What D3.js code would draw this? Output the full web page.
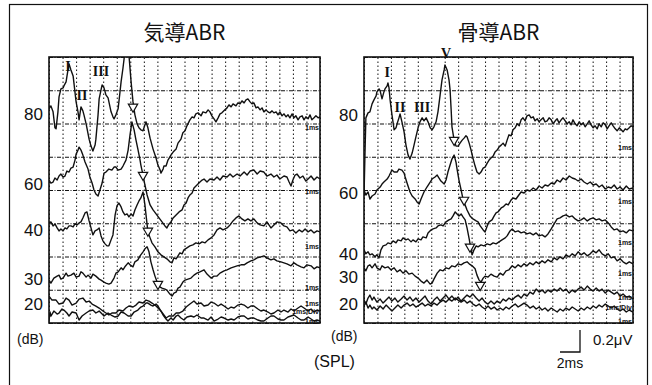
<!DOCTYPE html>
<html>
<head>
<meta charset="utf-8">
<script src="https://cdn.jsdelivr.net/npm/d3@7"></script>
<style>
body { margin: 0; background: #fff; }
svg { display: block; }
text { fill: #111; font-family: "Liberation Sans", Arial, sans-serif; }
</style>
</head>
<body>
<svg width="652" height="385"></svg>
<script>
// stimulus levels (dB SPL) and the height where each trace starts, in grid divisions from the bottom
var levels = ["80", "60", "40", "30", "20"];
var airLevelPos = [6.29, 4.18, 2.80, 1.32, 0.57];
var boneLevelPos = [6.26, 3.91, 2.08, 1.38, 0.57];

// traces: [time (ms), position (grid divisions)]
var air80 = [[0,6.44],[0.07,6.53],[0.15,6.35],[0.22,5.87],[0.26,5.84],[0.33,6.35],[0.37,6.80],[0.44,7.04],[0.52,7.07],[0.55,7.13],[0.63,7.25],[0.70,7.61],[0.74,7.79],[0.81,7.61],[0.89,7.43],[1.00,6.65],[1.07,6.35],[1.11,6.11],[1.18,6.50],[1.25,6.38],[1.29,6.26],[1.37,5.99],[1.48,5.53],[1.55,5.32],[1.62,5.17],[1.70,5.35],[1.73,5.53],[1.81,6.26],[1.85,6.74],[1.92,7.01],[1.96,7.16],[2.03,7.07],[2.10,6.86],[2.18,6.77],[2.29,6.35],[2.36,6.20],[2.40,6.14],[2.47,6.26],[2.55,6.44],[2.62,6.95],[2.66,7.25],[2.73,7.67],[2.77,7.94],[2.84,8.51],[2.92,8.51],[2.95,8.06],[3.03,7.25],[3.10,6.65],[3.17,6.26],[3.25,5.99],[3.32,5.87],[3.39,5.81],[3.47,5.78],[3.54,5.96],[3.58,6.05],[3.65,5.87],[3.73,5.56],[3.84,5.23],[3.95,4.96],[4.02,4.75],[4.10,4.60],[4.13,4.51],[4.21,4.63],[4.24,4.72],[4.32,4.72],[4.39,4.90],[4.50,5.05],[4.58,5.14],[4.69,5.23],[4.76,5.41],[4.87,5.53],[4.94,5.72],[5.02,5.78],[5.09,5.93],[5.20,6.11],[5.28,6.20],[5.35,6.17],[5.42,6.29],[5.50,6.32],[5.61,6.23],[5.68,6.35],[5.79,6.32],[5.87,6.41],[5.94,6.35],[6.01,6.23],[6.09,6.14],[6.16,6.05],[6.24,6.17],[6.31,6.29],[6.38,6.32],[6.49,6.41],[6.57,6.47],[6.64,6.56],[6.72,6.50],[6.79,6.59],[6.90,6.53],[6.97,6.62],[7.05,6.59],[7.12,6.68],[7.20,6.62],[7.27,6.71],[7.34,6.74],[7.42,6.65],[7.49,6.59],[7.56,6.62],[7.64,6.47],[7.71,6.50],[7.79,6.41],[7.86,6.47],[7.93,6.35],[8.01,6.41],[8.08,6.35],[8.15,6.32],[8.23,6.38],[8.30,6.32],[8.38,6.35],[8.45,6.26],[8.52,6.35],[8.60,6.23],[8.67,6.29],[8.75,6.20],[8.82,6.26],[8.89,6.17],[8.97,6.29],[9.04,6.17],[9.11,6.23],[9.19,6.11],[9.26,6.20],[9.34,6.23],[9.41,6.11],[9.48,6.20],[9.56,6.14],[9.63,6.26],[9.70,6.11],[9.78,6.17],[9.85,6.23],[9.93,6.17],[10,6.20]];
var air60 = [[0,4.30],[0.07,4.21],[0.15,4.24],[0.22,4.36],[0.30,4.30],[0.37,4.42],[0.44,4.48],[0.52,4.39],[0.59,4.42],[0.66,4.57],[0.74,4.54],[0.81,4.66],[0.89,4.69],[0.96,4.90],[1.00,5.08],[1.07,5.20],[1.11,5.29],[1.18,5.20],[1.25,5.05],[1.33,4.84],[1.44,4.63],[1.51,4.39],[1.59,4.21],[1.66,4.00],[1.73,3.88],[1.81,3.82],[1.88,4.00],[1.96,4.21],[2.03,4.51],[2.10,4.54],[2.21,4.63],[2.32,4.60],[2.40,4.69],[2.47,4.69],[2.55,4.60],[2.66,4.63],[2.73,4.72],[2.84,4.90],[2.92,5.20],[2.99,5.66],[3.06,6.05],[3.14,5.81],[3.21,5.50],[3.28,5.23],[3.36,4.90],[3.39,4.75],[3.47,4.45],[3.54,4.15],[3.62,3.85],[3.73,3.55],[3.84,3.40],[3.95,3.28],[4.06,3.16],[4.17,3.04],[4.28,2.92],[4.35,2.86],[4.43,2.98],[4.50,3.04],[4.58,3.16],[4.69,3.25],[4.80,3.34],[4.91,3.40],[4.98,3.55],[5.06,3.61],[5.13,3.76],[5.20,3.85],[5.28,3.91],[5.35,4.06],[5.46,4.15],[5.57,4.24],[5.65,4.30],[5.72,4.33],[5.83,4.24],[5.94,4.33],[6.09,4.30],[6.20,4.39],[6.31,4.30],[6.42,4.42],[6.57,4.39],[6.68,4.48],[6.79,4.39],[6.94,4.48],[7.05,4.42],[7.20,4.54],[7.31,4.45],[7.42,4.57],[7.56,4.60],[7.68,4.48],[7.79,4.57],[7.93,4.54],[8.04,4.42],[8.19,4.48],[8.30,4.39],[8.41,4.45],[8.52,4.33],[8.67,4.42],[8.78,4.39],[8.86,4.24],[8.93,4.12],[9.00,4.30],[9.08,4.45],[9.15,4.48],[9.26,4.36],[9.37,4.42],[9.48,4.27],[9.56,4.33],[9.67,4.42],[9.78,4.30],[9.89,4.39],[10,4.33]];
var air40 = [[0,3.01],[0.07,3.04],[0.15,2.92],[0.22,2.98],[0.30,2.86],[0.37,2.77],[0.44,2.83],[0.52,2.77],[0.59,2.86],[0.66,2.83],[0.74,2.92],[0.81,2.92],[0.89,2.89],[0.96,2.98],[1.03,2.95],[1.11,3.01],[1.18,3.04],[1.25,3.16],[1.33,3.31],[1.40,3.34],[1.48,3.07],[1.55,2.86],[1.62,2.65],[1.70,2.77],[1.77,2.80],[1.85,2.86],[1.92,2.62],[1.99,2.47],[2.07,2.38],[2.14,2.32],[2.21,2.32],[2.29,2.50],[2.36,2.65],[2.44,3.25],[2.51,3.52],[2.58,3.61],[2.66,3.49],[2.73,3.34],[2.80,3.25],[2.88,3.28],[2.95,3.19],[3.03,3.28],[3.10,3.22],[3.17,3.40],[3.25,3.55],[3.32,3.67],[3.39,3.76],[3.47,3.94],[3.54,3.55],[3.58,3.25],[3.65,2.74],[3.73,2.56],[3.80,2.41],[3.91,2.29],[4.02,2.14],[4.13,2.05],[4.24,1.99],[4.35,1.93],[4.46,1.84],[4.54,1.81],[4.61,1.96],[4.69,1.93],[4.76,2.02],[4.83,2.11],[4.91,2.08],[4.98,2.20],[5.09,2.26],[5.20,2.32],[5.31,2.35],[5.42,2.41],[5.54,2.38],[5.65,2.44],[5.76,2.41],[5.87,2.50],[5.98,2.56],[6.09,2.65],[6.20,2.80],[6.31,2.86],[6.42,2.80],[6.57,2.86],[6.68,2.95],[6.79,3.07],[6.90,3.16],[7.01,3.22],[7.12,3.13],[7.23,3.07],[7.34,3.13],[7.45,3.07],[7.56,3.13],[7.68,3.01],[7.79,2.95],[7.93,2.92],[8.04,3.04],[8.19,2.86],[8.30,2.95],[8.41,3.04],[8.56,3.01],[8.67,2.92],[8.78,2.89],[8.89,2.77],[9.00,2.80],[9.11,2.71],[9.23,2.80],[9.34,2.74],[9.45,2.83],[9.56,2.74],[9.67,2.80],[9.78,2.71],[9.89,2.77],[10,2.74]];
var air30 = [[0,1.29],[0.07,1.20],[0.18,1.35],[0.30,1.41],[0.37,1.44],[0.44,1.32],[0.52,1.35],[0.63,1.50],[0.70,1.41],[0.81,1.44],[0.92,1.50],[1.00,1.38],[1.11,1.41],[1.18,1.54],[1.25,1.50],[1.37,1.38],[1.44,1.44],[1.55,1.35],[1.62,1.47],[1.73,1.41],[1.85,1.32],[1.92,1.29],[2.03,1.23],[2.10,1.20],[2.21,1.17],[2.29,1.20],[2.40,1.35],[2.47,1.50],[2.55,1.54],[2.66,1.66],[2.73,1.60],[2.80,1.69],[2.92,1.81],[2.99,1.75],[3.10,1.69],[3.17,1.84],[3.28,1.90],[3.36,2.02],[3.47,2.14],[3.54,2.23],[3.62,2.29],[3.69,2.14],[3.76,1.84],[3.84,1.60],[3.91,1.41],[3.99,1.23],[4.10,1.08],[4.17,1.05],[4.28,1.02],[4.35,0.99],[4.46,0.87],[4.54,0.81],[4.61,0.90],[4.69,0.93],[4.76,1.05],[4.83,1.08],[4.94,1.23],[5.02,1.29],[5.13,1.32],[5.24,1.35],[5.35,1.44],[5.46,1.50],[5.57,1.54],[5.72,1.60],[5.83,1.47],[5.98,1.35],[6.09,1.41],[6.20,1.41],[6.31,1.50],[6.46,1.57],[6.57,1.60],[6.72,1.66],[6.83,1.69],[6.94,1.72],[7.09,1.75],[7.20,1.75],[7.31,1.81],[7.45,1.87],[7.56,1.90],[7.68,1.96],[7.82,1.99],[7.93,2.02],[8.04,1.96],[8.19,1.90],[8.30,1.93],[8.41,1.87],[8.56,1.84],[8.67,1.81],[8.78,1.78],[8.93,1.72],[9.04,1.81],[9.15,1.75],[9.30,1.69],[9.41,1.66],[9.52,1.75],[9.67,1.72],[9.78,1.63],[9.89,1.69],[10,1.66]];
var air20a = [[0,0.81],[0.11,0.69],[0.26,0.69],[0.37,0.57],[0.52,0.60],[0.63,0.75],[0.74,0.69],[0.85,0.54],[1.00,0.60],[1.11,0.72],[1.25,0.75],[1.37,0.63],[1.48,0.66],[1.59,0.57],[1.73,0.51],[1.85,0.45],[1.99,0.36],[2.10,0.30],[2.21,0.24],[2.32,0.30],[2.47,0.30],[2.58,0.39],[2.73,0.36],[2.84,0.45],[2.95,0.51],[3.10,0.48],[3.21,0.54],[3.32,0.63],[3.47,0.60],[3.58,0.69],[3.69,0.66],[3.80,0.60],[3.95,0.51],[4.06,0.42],[4.13,0.36],[4.24,0.24],[4.32,0.15],[4.43,0.21],[4.58,0.21],[4.69,0.30],[4.80,0.30],[4.94,0.36],[5.06,0.48],[5.20,0.57],[5.35,0.66],[5.46,0.57],[5.61,0.60],[5.72,0.51],[5.87,0.54],[5.98,0.63],[6.09,0.60],[6.24,0.51],[6.35,0.57],[6.46,0.51],[6.61,0.42],[6.72,0.48],[6.83,0.45],[6.97,0.54],[7.09,0.57],[7.20,0.54],[7.34,0.45],[7.45,0.51],[7.56,0.51],[7.71,0.42],[7.82,0.36],[7.93,0.39],[8.08,0.33],[8.19,0.27],[8.30,0.30],[8.45,0.39],[8.56,0.33],[8.67,0.39],[8.82,0.33],[8.93,0.42],[9.04,0.36],[9.19,0.45],[9.30,0.51],[9.41,0.45],[9.56,0.36],[9.67,0.42],[9.78,0.33],[9.89,0.39],[10,0.36]];
var air20b = [[0,0.06],[0.04,0.33],[0.07,0.21],[0.18,0.36],[0.30,0.27],[0.37,0.30],[0.48,0.42],[0.55,0.39],[0.66,0.30],[0.74,0.21],[0.85,0.33],[1.00,0.30],[1.11,0.09],[1.22,0.21],[1.37,0.30],[1.48,0.36],[1.62,0.39],[1.73,0.30],[1.85,0.36],[1.96,0.27],[2.03,0.21],[2.18,0.30],[2.29,0.24],[2.44,0.18],[2.55,0.21],[2.66,0.33],[2.77,0.30],[2.92,0.21],[3.03,0.21],[3.14,0.33],[3.28,0.39],[3.39,0.48],[3.47,0.51],[3.58,0.60],[3.65,0.60],[3.76,0.54],[3.84,0.51],[3.95,0.57],[4.02,0.51],[4.13,0.36],[4.21,0.24],[4.32,0.12],[4.39,0.06],[4.50,0.15],[4.58,0.09],[4.69,0.21],[4.76,0.24],[4.87,0.15],[4.98,0.09],[5.09,0.18],[5.24,0.21],[5.35,0.18],[5.46,0.24],[5.61,0.15],[5.72,0.15],[5.87,0.09],[5.98,0.18],[6.09,0.06],[6.24,0.12],[6.35,0.18],[6.46,0.15],[6.61,0.09],[6.72,0.12],[6.83,0.09],[6.97,0.18],[7.09,0.21],[7.20,0.21],[7.34,0.12],[7.45,0.15],[7.56,0.15],[7.71,0.09],[7.82,0.06],[7.93,0.06],[8.08,0.15],[8.19,0.21],[8.30,0.21],[8.45,0.12],[8.56,0.09],[8.67,0.09],[8.82,0.18],[8.93,0.21],[9.04,0.24],[9.19,0.15],[9.30,0.09],[9.41,0.09],[9.56,0.18],[9.67,0.12],[9.78,0.06],[9.89,0.09],[10,0.06]];

var bone80 = [[0,3.82],[0.04,5.20],[0.07,6.17],[0.15,6.32],[0.22,6.35],[0.30,6.59],[0.37,6.71],[0.45,6.83],[0.48,6.95],[0.56,7.04],[0.60,6.98],[0.67,6.74],[0.74,6.95],[0.78,7.04],[0.86,7.13],[0.89,7.22],[0.93,7.07],[0.97,6.71],[1.04,6.26],[1.12,5.81],[1.19,5.87],[1.23,5.99],[1.30,6.17],[1.34,6.29],[1.41,6.05],[1.49,5.75],[1.56,5.35],[1.64,5.05],[1.71,4.93],[1.79,5.11],[1.86,5.35],[1.93,5.60],[2.01,5.87],[2.08,6.05],[2.16,6.17],[2.23,6.08],[2.31,6.17],[2.38,6.05],[2.46,5.87],[2.53,5.81],[2.60,5.90],[2.68,6.05],[2.75,6.35],[2.83,6.86],[2.90,7.31],[2.98,7.61],[3.01,7.76],[3.09,7.61],[3.16,7.31],[3.20,7.01],[3.24,6.41],[3.27,5.90],[3.35,5.50],[3.42,5.32],[3.50,5.32],[3.57,5.41],[3.65,5.50],[3.72,5.56],[3.79,5.63],[3.83,5.60],[3.91,5.41],[3.98,5.20],[4.05,4.96],[4.13,4.72],[4.20,4.54],[4.28,4.48],[4.35,4.54],[4.43,4.66],[4.50,4.69],[4.58,4.81],[4.65,4.90],[4.72,4.96],[4.80,5.02],[4.87,5.14],[4.95,5.20],[5.02,5.29],[5.10,5.35],[5.17,5.41],[5.25,5.32],[5.32,5.50],[5.39,5.66],[5.47,5.63],[5.54,5.81],[5.62,5.87],[5.69,5.99],[5.77,5.93],[5.84,6.11],[5.91,6.17],[5.99,6.08],[6.06,6.23],[6.14,6.26],[6.21,6.17],[6.29,6.20],[6.36,6.08],[6.44,6.14],[6.51,6.05],[6.58,6.11],[6.66,6.17],[6.73,6.05],[6.81,6.08],[6.88,6.17],[6.96,6.11],[7.03,5.99],[7.11,6.08],[7.18,6.14],[7.25,6.02],[7.33,6.11],[7.40,6.17],[7.48,6.08],[7.55,5.99],[7.63,6.05],[7.70,5.96],[7.77,6.11],[7.85,5.99],[7.92,5.93],[8.00,6.05],[8.07,5.96],[8.15,6.02],[8.22,5.90],[8.30,5.99],[8.37,6.08],[8.44,5.96],[8.52,5.87],[8.59,5.93],[8.67,5.84],[8.74,5.99],[8.82,5.90],[8.89,6.02],[8.97,5.96],[9.04,5.84],[9.11,5.93],[9.19,6.02],[9.26,5.93],[9.34,5.84],[9.41,5.78],[9.49,5.87],[9.56,5.81],[9.63,5.75],[9.71,5.84],[9.78,5.81],[9.86,5.87],[9.93,5.93],[10,5.90]];
var bone60 = [[0,4.00],[0.07,3.85],[0.15,3.94],[0.22,3.73],[0.30,3.82],[0.41,3.88],[0.48,4.00],[0.60,4.09],[0.67,4.18],[0.74,4.24],[0.86,4.33],[0.93,4.42],[1.04,4.60],[1.12,4.54],[1.23,4.54],[1.30,4.63],[1.41,4.60],[1.49,4.51],[1.53,4.39],[1.60,4.21],[1.71,3.94],[1.79,3.82],[1.90,3.73],[1.97,3.64],[2.05,3.58],[2.12,3.73],[2.23,3.94],[2.34,4.09],[2.46,4.24],[2.53,4.33],[2.64,4.39],[2.72,4.45],[2.79,4.36],[2.86,4.27],[2.98,4.18],[3.05,4.30],[3.12,4.54],[3.20,4.75],[3.27,4.93],[3.35,5.05],[3.42,4.84],[3.46,4.63],[3.53,4.30],[3.61,4.00],[3.68,3.73],[3.76,3.55],[3.83,3.40],[3.94,3.22],[4.05,3.13],[4.17,3.07],[4.24,3.04],[4.32,2.92],[4.43,2.80],[4.50,2.74],[4.58,2.92],[4.65,3.04],[4.76,3.10],[4.84,3.22],[4.91,3.31],[4.98,3.34],[5.10,3.46],[5.17,3.49],[5.28,3.58],[5.36,3.55],[5.47,3.70],[5.54,3.76],[5.65,3.73],[5.73,3.82],[5.84,3.94],[5.95,3.91],[6.06,4.00],[6.17,3.97],[6.29,4.06],[6.40,4.00],[6.51,4.12],[6.62,4.06],[6.73,4.15],[6.84,4.12],[6.96,4.21],[7.07,4.18],[7.18,4.30],[7.29,4.24],[7.40,4.36],[7.51,4.30],[7.63,4.42],[7.74,4.36],[7.85,4.33],[7.96,4.27],[8.07,4.33],[8.18,4.24],[8.30,4.18],[8.41,4.24],[8.52,4.15],[8.63,4.18],[8.74,4.09],[8.85,4.15],[8.97,4.03],[9.08,4.09],[9.19,4.06],[9.30,4.15],[9.41,4.03],[9.52,4.09],[9.63,4.00],[9.75,4.12],[9.86,4.03],[10,4.06]];
var bone40 = [[0,2.20],[0.07,2.08],[0.15,2.14],[0.22,2.05],[0.30,2.08],[0.41,1.99],[0.48,2.05],[0.56,1.96],[0.63,2.20],[0.71,2.32],[0.82,2.35],[0.89,2.41],[1.00,2.38],[1.08,2.47],[1.19,2.41],[1.26,2.50],[1.38,2.47],[1.45,2.56],[1.56,2.50],[1.64,2.53],[1.75,2.44],[1.82,2.50],[1.93,2.44],[2.01,2.53],[2.12,2.50],[2.19,2.59],[2.31,2.56],[2.38,2.71],[2.49,2.80],[2.57,2.83],[2.68,2.86],[2.75,2.92],[2.86,2.95],[2.94,2.92],[3.05,3.04],[3.16,3.10],[3.24,3.13],[3.31,3.22],[3.39,3.34],[3.46,3.28],[3.53,3.22],[3.61,3.28],[3.68,3.19],[3.76,3.10],[3.83,2.86],[3.91,2.53],[3.98,2.20],[4.02,2.05],[4.09,2.20],[4.17,2.32],[4.24,2.29],[4.35,2.35],[4.46,2.32],[4.58,2.38],[4.69,2.35],[4.80,2.41],[4.91,2.38],[5.02,2.44],[5.13,2.50],[5.25,2.56],[5.32,2.62],[5.43,2.77],[5.51,2.83],[5.62,2.74],[5.73,2.77],[5.84,2.71],[5.95,2.74],[6.06,2.68],[6.17,2.71],[6.29,2.65],[6.40,2.71],[6.51,2.62],[6.62,2.65],[6.73,2.59],[6.84,2.68],[6.96,2.83],[7.07,2.98],[7.18,3.13],[7.29,3.16],[7.40,3.22],[7.51,3.25],[7.63,3.19],[7.74,3.22],[7.85,3.13],[7.96,3.07],[8.07,3.10],[8.18,3.16],[8.30,3.07],[8.41,3.13],[8.52,3.16],[8.63,3.10],[8.74,3.13],[8.85,3.07],[8.97,3.10],[9.08,3.01],[9.19,2.89],[9.30,2.80],[9.41,2.83],[9.52,2.74],[9.63,2.77],[9.75,2.71],[9.86,2.80],[10,2.77]];
var bone30 = [[0,1.66],[0.07,1.57],[0.15,1.72],[0.22,1.75],[0.30,1.66],[0.41,1.78],[0.48,1.66],[0.60,1.60],[0.67,1.72],[0.78,1.66],[0.89,1.69],[1.00,1.60],[1.12,1.66],[1.23,1.54],[1.34,1.60],[1.45,1.50],[1.56,1.57],[1.67,1.47],[1.79,1.50],[1.90,1.41],[2.01,1.35],[2.12,1.26],[2.23,1.20],[2.34,1.29],[2.46,1.17],[2.53,1.20],[2.60,1.32],[2.72,1.50],[2.83,1.60],[2.94,1.57],[3.05,1.66],[3.16,1.63],[3.27,1.72],[3.39,1.69],[3.50,1.78],[3.61,1.75],[3.72,1.81],[3.83,1.84],[3.91,1.78],[4.02,1.72],[4.13,1.63],[4.20,1.44],[4.28,1.29],[4.35,1.23],[4.43,1.35],[4.50,1.41],[4.61,1.38],[4.72,1.47],[4.84,1.41],[4.95,1.38],[5.06,1.50],[5.17,1.44],[5.28,1.57],[5.39,1.60],[5.51,1.72],[5.62,1.66],[5.73,1.75],[5.84,1.69],[5.95,1.78],[6.06,1.72],[6.17,1.81],[6.29,1.75],[6.40,1.84],[6.51,1.78],[6.62,1.87],[6.73,1.81],[6.84,1.90],[6.96,1.84],[7.07,1.96],[7.18,1.90],[7.29,1.99],[7.40,1.93],[7.51,2.05],[7.63,1.99],[7.74,2.08],[7.85,2.02],[7.96,2.14],[8.07,2.05],[8.18,2.11],[8.30,2.02],[8.41,2.08],[8.52,2.17],[8.63,2.11],[8.74,2.20],[8.85,2.08],[8.97,2.02],[9.08,2.08],[9.19,1.96],[9.30,1.99],[9.41,1.87],[9.52,1.93],[9.63,1.84],[9.75,1.78],[9.86,1.84],[10,1.78]];
// the two 20 dB bone runs share one time base
var boneT20 = [0,0.07,0.15,0.22,0.30,0.37,0.48,0.60,0.71,0.82,0.93,1.04,1.15,1.26,1.38,1.49,1.60,1.71,1.82,1.93,2.05,2.16,2.27,2.38,2.49,2.60,2.72,2.83,2.94,3.05,3.16,3.27,3.39,3.50,3.61,3.72,3.83,3.94,4.05,4.17,4.28,4.39,4.50,4.61,4.72,4.84,4.95,5.06,5.17,5.28,5.39,5.51,5.62,5.73,5.84,5.95,6.06,6.17,6.29,6.40,6.51,6.62,6.73,6.84,6.96,7.07,7.18,7.29,7.40,7.51,7.63,7.74,7.85,7.96,8.07,8.18,8.30,8.41,8.52,8.63,8.74,8.85,8.97,9.08,9.19,9.30,9.41,9.52,9.63,9.75,9.86,10];
var bone20a = [0.69,0.57,0.75,0.84,0.69,0.78,0.63,0.72,0.60,0.69,0.78,0.66,0.75,0.63,0.72,0.81,0.69,0.78,0.66,0.75,0.63,0.72,0.81,0.66,0.57,0.69,0.78,0.66,0.75,0.84,0.72,0.81,0.69,0.78,0.66,0.75,0.84,0.78,0.87,0.75,0.66,0.75,0.63,0.57,0.66,0.57,0.66,0.60,0.72,0.66,0.75,0.69,0.78,0.84,0.75,0.87,0.81,0.93,0.87,1.02,0.93,0.99,0.90,0.99,0.93,1.02,0.96,1.05,0.96,1.02,0.90,0.99,0.93,1.02,1.08,0.99,1.11,1.02,0.96,1.05,0.96,1.02,0.90,0.99,0.93,0.87,0.93,0.81,0.87,0.78,0.81,0.72];
var bone20b = [0.51,0.63,0.45,0.54,0.42,0.48,0.39,0.51,0.42,0.54,0.45,0.36,0.45,0.54,0.45,0.54,0.60,0.51,0.57,0.48,0.54,0.60,0.51,0.57,0.51,0.60,0.54,0.63,0.69,0.63,0.72,0.66,0.75,0.69,0.63,0.69,0.60,0.66,0.57,0.51,0.57,0.48,0.42,0.51,0.42,0.48,0.39,0.45,0.39,0.48,0.42,0.51,0.57,0.48,0.54,0.60,0.54,0.45,0.51,0.42,0.48,0.39,0.45,0.36,0.45,0.39,0.33,0.42,0.36,0.45,0.39,0.48,0.42,0.36,0.45,0.39,0.48,0.42,0.51,0.45,0.54,0.48,0.57,0.51,0.45,0.51,0.42,0.36,0.42,0.33,0.39,0.33];

// wave V markers and wave labels: [time, position]
var airMarks = [[3.10,6.50],[3.47,4.45],[3.65,2.77],[4.02,1.17]];
var boneMarks = [[3.35,5.50],[3.72,3.70],[3.94,2.29],[4.32,1.14]];
var airWaves = [["I",0.70,7.73],["II",1.22,6.86],["III",1.92,7.58]];
var boneWaves = [["I",0.86,7.55],["II",1.34,6.50],["III",2.16,6.50],["V",3.05,8.12]];
// little sweep stamps at the right end of each trace
var airTags = [["1ms",5.87],["1ms",3.94],["1ms",2.29],["1ms",1.08],["1ms",0.60],["1ms/Div",0.33],["1ms",0.03]];
var boneTags = [["1ms",5.29],["1ms",3.64],["1ms",2.41],["1ms",1.50],["1ms",0.78],["1ms/Div",0.45],["1ms",0.03]];

var svg = d3.select("svg");
var plotTop = 57, plotBottom = 323;

svg.append("rect")
    .attr("x", 9.5).attr("y", 4.5)
    .attr("width", 638).attr("height", 400)
    .attr("fill", "none").attr("stroke", "#111").attr("stroke-width", 1.2);

var panels = [
    {id: "air", title: "気導ABR", x0: 49, x1: 320,
     traces: [air80, air60, air40, air30, air20a, air20b],
     levelPos: airLevelPos, marks: airMarks, waves: airWaves, tags: airTags},
    {id: "bone", title: "骨導ABR", x0: 364, x1: 633,
     traces: [bone80, bone60, bone40, bone30, d3.zip(boneT20, bone20a), d3.zip(boneT20, bone20b)],
     levelPos: boneLevelPos, marks: boneMarks, waves: boneWaves, tags: boneTags}
];

panels.forEach(function(p) {
    var x = d3.scaleLinear().domain([0, 10]).range([p.x0, p.x1]);
    var y = d3.scaleLinear().domain([0, 8]).range([plotBottom, plotTop]);
    var g = svg.append("g");

    g.append("text")
        .attr("x", (p.x0 + p.x1) / 2).attr("y", 40)
        .attr("text-anchor", "middle")
        .style("font-family", "'Noto Sans CJK JP', sans-serif")
        .style("font-size", "21px")
        .text(p.title);

    // dotted time grid, every 0.5 ms
    g.append("g")
        .attr("transform", "translate(0," + plotBottom + ")")
        .call(d3.axisBottom(x).ticks(20).tickSize(-(plotBottom - plotTop)).tickFormat(""))
        .call(function(a) { a.select(".domain").remove(); })
        .selectAll("line")
        .attr("stroke", "#111").attr("stroke-width", 1)
        .attr("stroke-dasharray", "1.5,2.5");

    // dash-dot horizontal grid
    g.append("g")
        .attr("transform", "translate(" + p.x0 + ",0)")
        .call(d3.axisLeft(y).ticks(8).tickSize(-(p.x1 - p.x0)).tickFormat(""))
        .call(function(a) { a.select(".domain").remove(); })
        .selectAll("line")
        .attr("stroke", "#111").attr("stroke-width", 1.1)
        .attr("stroke-dasharray", "4,1.5,1,1.5");

    g.append("rect")
        .attr("x", p.x0).attr("y", plotTop)
        .attr("width", p.x1 - p.x0).attr("height", plotBottom - plotTop)
        .attr("fill", "none").attr("stroke", "#111").attr("stroke-width", 1.6);

    // level labels
    g.append("g")
        .attr("transform", "translate(" + (p.x0 - 6) + ",0)")
        .call(d3.axisLeft(y).tickValues(p.levelPos).tickSize(0).tickPadding(0)
            .tickFormat(function(d, i) { return levels[i]; }))
        .call(function(a) { a.select(".domain").remove(); })
        .selectAll("text")
        .style("font-family", "'Liberation Sans', Arial, sans-serif")
        .style("font-size", "17px")
        .attr("fill", "#111");

    svg.append("clipPath").attr("id", "clip-" + p.id)
        .append("rect")
        .attr("x", p.x0).attr("y", plotTop)
        .attr("width", p.x1 - p.x0).attr("height", plotBottom - plotTop);

    var line = d3.line()
        .x(function(d) { return x(d[0]); })
        .y(function(d) { return y(d[1]); });

    g.append("g")
        .attr("clip-path", "url(#clip-" + p.id + ")")
        .selectAll("path")
        .data(p.traces)
        .enter().append("path")
        .attr("d", line)
        .attr("fill", "none")
        .attr("stroke", "#111")
        .attr("stroke-width", 1.4)
        .attr("stroke-linejoin", "round");

    g.selectAll(".vmark")
        .data(p.marks)
        .enter().append("path")
        .attr("class", "vmark")
        .attr("transform", function(d) { return "translate(" + x(d[0]) + "," + y(d[1]) + ") rotate(180)"; })
        .attr("d", d3.symbol(d3.symbolTriangle, 38))
        .attr("fill", "#fff")
        .attr("stroke", "#111")
        .attr("stroke-width", 1.2);

    g.selectAll(".wave")
        .data(p.waves)
        .enter().append("text")
        .attr("class", "wave")
        .attr("x", function(d) { return x(d[1]); })
        .attr("y", function(d) { return y(d[2]); })
        .attr("dy", "0.35em")
        .attr("text-anchor", "middle")
        .style("font-family", "'Liberation Serif', serif")
        .style("font-weight", "bold")
        .style("font-size", "14px")
        .text(function(d) { return d[0]; });

    g.selectAll(".tag")
        .data(p.tags)
        .enter().append("text")
        .attr("class", "tag")
        .attr("x", x(10) - 1)
        .attr("y", function(d) { return y(d[1]); })
        .attr("dy", "0.35em")
        .attr("text-anchor", "end")
        .style("font-family", "'Liberation Sans Narrow', 'Liberation Sans', sans-serif")
        .style("font-weight", "bold")
        .style("font-size", "7px")
        .text(function(d) { return d[0]; });
});

// axis notes
svg.append("text").attr("x", 17).attr("y", 344).style("font-size", "14px").text("(dB)");
svg.append("text").attr("x", 331).attr("y", 341).style("font-size", "14px").text("(dB)");
svg.append("text").attr("x", 314).attr("y", 367).style("font-size", "16px").text("(SPL)");

// calibration bar: 2 ms by 0.2 µV
var barT = d3.scaleLinear().domain([0, 2]).range([560, 580]);
var barA = d3.scaleLinear().domain([0, 0.2]).range([352, 330]);
svg.append("path")
    .attr("d", d3.line()([[barT(0), barA(0)], [barT(2), barA(0)], [barT(2), barA(0.2)]]))
    .attr("fill", "none").attr("stroke", "#111").attr("stroke-width", 1.3);
svg.append("text").attr("x", barT(1)).attr("y", 368).attr("text-anchor", "middle")
    .style("font-size", "14px").text("2ms");
svg.append("text").attr("x", barT(2) + 13).attr("y", 345)
    .style("font-size", "15px").text("0.2μV");
</script>
</body>
</html>
